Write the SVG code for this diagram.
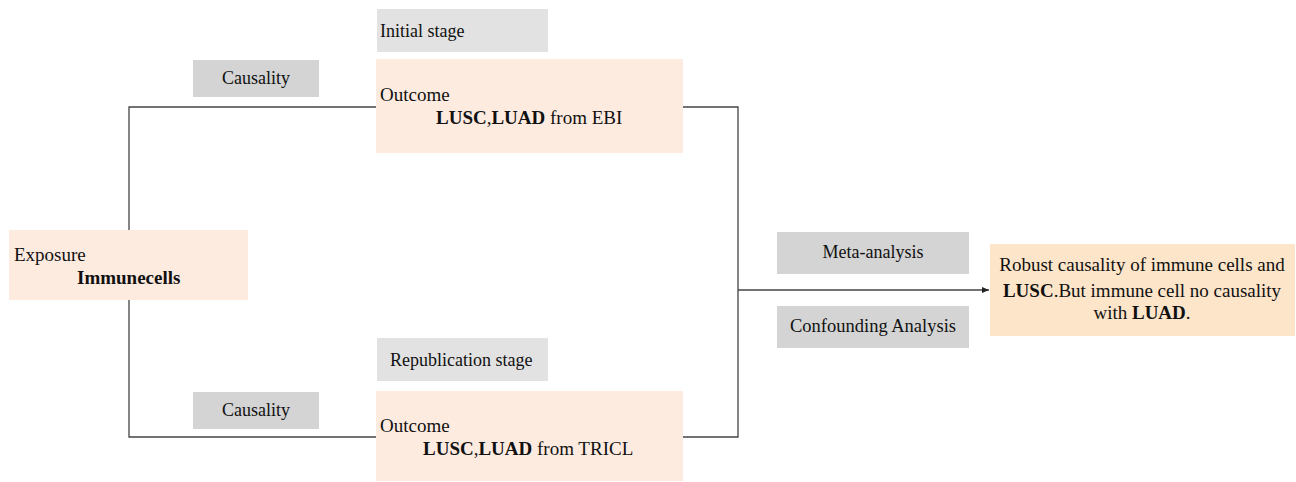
<svg xmlns="http://www.w3.org/2000/svg" width="1296" height="482" viewBox="0 0 1296 482">
<style>
text{font-family:"Liberation Serif","Times New Roman",serif;font-size:18px;fill:#111}
.l{font-size:19px}
.b{font-weight:bold}
.peach{fill:#fdebe0}
.grey{fill:#d4d4d4}
.lgrey{fill:#e2e2e2}
.res{fill:#fde5c9}
.ln{fill:none;stroke:#444;stroke-width:1.3}
.c{text-anchor:middle}
</style>
<defs>
<marker id="ah" markerWidth="8" markerHeight="8" refX="7" refY="4" orient="auto" markerUnits="userSpaceOnUse">
<path d="M0,1 L7,4 L0,7 z" fill="#222"/>
</marker>
</defs>
<rect width="1296" height="482" fill="#fff"/>
<g id="connectors">
<path class="ln" d="M129,230 V107 H376"/>
<path class="ln" d="M129,300 V437 H376"/>
<path class="ln" d="M683,107 H738 V437 H683"/>
<path class="ln" d="M738,290 H989" marker-end="url(#ah)"/>
</g>
<g id="exposure">
<rect class="peach" x="9" y="230" width="239" height="70"/>
<text class="l" x="14" y="261">Exposure</text>
<text class="l b" x="77" y="284">Immunecells</text>
</g>
<g id="initial-stage">
<rect class="lgrey" x="377" y="9" width="171" height="43"/>
<text x="380" y="37">Initial stage</text>
</g>
<g id="causality-top">
<rect class="grey" x="193" y="60" width="126" height="37"/>
<text class="c" x="256" y="84">Causality</text>
</g>
<g id="outcome-ebi">
<rect class="peach" x="376" y="59" width="307" height="94"/>
<text class="l" x="380" y="101">Outcome</text>
<text class="l" x="436" y="124"><tspan class="b">LUSC</tspan>,<tspan class="b">LUAD</tspan> from EBI</text>
</g>
<g id="republication-stage">
<rect class="lgrey" x="377" y="338" width="171" height="43"/>
<text x="390" y="366">Republication stage</text>
</g>
<g id="causality-bottom">
<rect class="grey" x="193" y="392" width="126" height="37"/>
<text class="c" x="256" y="416">Causality</text>
</g>
<g id="outcome-tricl">
<rect class="peach" x="376" y="391" width="307" height="90"/>
<text class="l" x="380" y="432">Outcome</text>
<text class="l" x="423" y="455"><tspan class="b">LUSC</tspan>,<tspan class="b">LUAD</tspan> from TRICL</text>
</g>
<g id="meta-analysis">
<rect class="grey" x="777" y="232" width="192" height="42"/>
<text class="c" x="873" y="258">Meta-analysis</text>
</g>
<g id="confounding">
<rect class="grey" x="777" y="306" width="192" height="42"/>
<text class="c" x="873" y="332" style="font-size:18.5px">Confounding Analysis</text>
</g>
<g id="result">
<rect class="res" x="990" y="244" width="305" height="92"/>
<text class="l c" x="1142" y="271">Robust causality of immune cells and</text>
<text class="l c" x="1142" y="297"><tspan class="b">LUSC</tspan>.But immune cell no causality</text>
<text class="l c" x="1142" y="319">with <tspan class="b">LUAD</tspan>.</text>
</g>
</svg>
